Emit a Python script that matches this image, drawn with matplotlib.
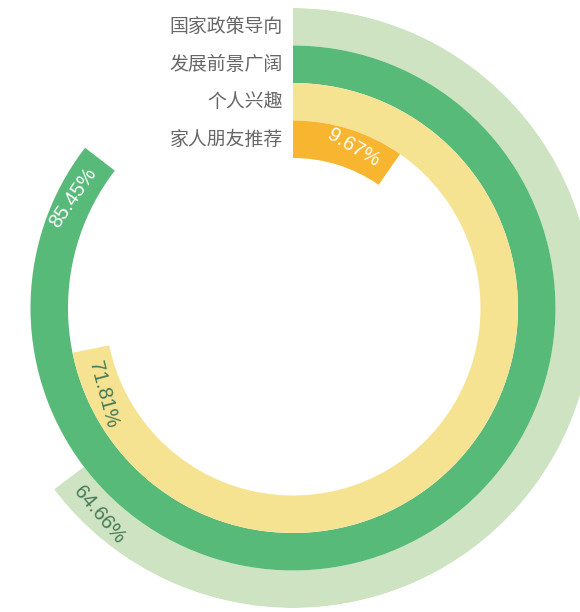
import matplotlib
matplotlib.use('Agg')

import numpy as np
import matplotlib.pyplot as plt

# Reasons for choosing the major, outer ring first
categories = ['国家政策导向', '发展前景广阔', '个人兴趣', '家人朋友推荐']
percents = [64.66, 85.45, 71.81, 9.67]
colors = ['#cde3c1', '#58ba79', '#f5e391', '#f8b52f']
label_colors = ['#477a58', '#ffffff', '#477a58', '#ffffff']

plt.rcParams['font.family'] = ['Noto Sans CJK SC', 'DejaVu Sans']

W, H = 580, 612
fig = plt.figure(figsize=(W / 100, H / 100), dpi=100)

# polar axes centred at (293, 308) px with radius 300 px
cx, cy, R = 293, 308, 300
ax = fig.add_axes([(cx - R) / W, (H - cy - R) / H, 2 * R / W, 2 * R / H],
                  projection='polar')
ax.set_theta_zero_location('N')
ax.set_theta_direction(-1)
ax.set_ylim(0, R)
ax.axis('off')

ring_w = 37.5
inner = 150
n = len(categories)
for i, (cat, p, c, lc) in enumerate(zip(categories, percents, colors, label_colors)):
    bottom = inner + (n - 1 - i) * ring_w
    theta = p / 100 * 2 * np.pi
    ax.bar(theta / 2, ring_w, width=theta, bottom=bottom, color=c,
           edgecolor='none', align='center')
    r_mid = bottom + ring_w / 2

    # category name to the left of the start line
    ax.annotate(cat, xy=(0, r_mid), xytext=(-10, 0), textcoords='offset pixels',
                ha='right', va='center', fontsize=13.6, color='#666666')

    # value label just inside the end of the bar, following the tangent
    t = theta - 13 / r_mid
    rot = (-np.degrees(t)) % 360
    ha = 'right'
    if rot > 180:
        rot -= 360
    if rot > 90:
        rot -= 180
        ha = 'left'
    elif rot < -90:
        rot += 180
        ha = 'left'
    ax.text(t, r_mid, f'{p:.2f}%', rotation=rot, rotation_mode='anchor',
            ha=ha, va='center', fontsize=14.5, color=lc,
            family=['Liberation Sans', 'DejaVu Sans'])

fig.savefig('out.png', dpi=100)
plt.close(fig)
